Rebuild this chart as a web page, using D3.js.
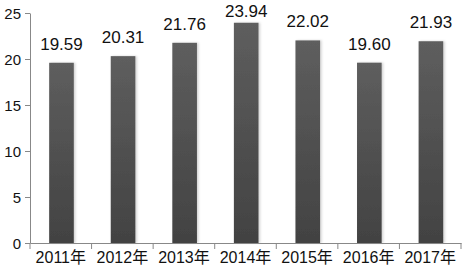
<!DOCTYPE html>
<html>
<head>
<meta charset="utf-8">
<script src="https://cdn.jsdelivr.net/npm/d3@7"></script>
<style>
  body { margin: 0; background: #fff; }
  svg { display: block; }
</style>
</head>
<body>
<div id="container"></div>
<script>
/* DATA */
const years = ["2011年", "2012年", "2013年", "2014年", "2015年", "2016年", "2017年"]
const values = [19.59, 20.31, 21.76, 23.94, 22.02, 19.60, 21.93]
const yTicks = [0, 5, 10, 15, 20, 25]

/* CONSTANTS */
const width = 469, height = 275
const margin = { top: 13, bottom: 32, left: 30, right: 8 }
const font = "'Liberation Sans', 'Noto Sans CJK SC', sans-serif"

const svg = d3.select("#container")
  .append("svg")
  .attr("width", width)
  .attr("height", height)

// gradient for bars
const defs = svg.append("defs")
const grad = defs.append("linearGradient")
  .attr("id", "barGrad")
  .attr("x1", 0).attr("y1", 0).attr("x2", 0).attr("y2", 1)
grad.append("stop").attr("offset", "0%").attr("stop-color", "#5e5e5e")
grad.append("stop").attr("offset", "100%").attr("stop-color", "#424242")

const shadow = defs.append("filter").attr("id", "shadow")
  .attr("x", "-20%").attr("width", "150%")
shadow.append("feDropShadow")
  .attr("dx", 1.5).attr("dy", 0).attr("stdDeviation", 1.2)
  .attr("flood-color", "#000").attr("flood-opacity", 0.18)

// SCALES
const xScale = d3.scaleBand()
  .domain(years)
  .range([margin.left, width - margin.right])
  .padding(0)

const yScale = d3.scaleLinear()
  .domain([0, 25])
  .range([height - margin.bottom, margin.top])

// BARS
const barW = xScale.bandwidth() * 0.4
svg.selectAll("rect.bar")
  .data(values)
  .join("rect")
  .attr("class", "bar")
  .attr("x", (d, i) => xScale(years[i]) + xScale.bandwidth() / 2 - barW / 2 + 0.7)
  .attr("y", d => yScale(d))
  .attr("width", barW)
  .attr("height", d => yScale(0) - yScale(d))
  .attr("fill", "url(#barGrad)")
  .attr("filter", "url(#shadow)")

// VALUE LABELS (kept inside the top edge like the original)
svg.selectAll("text.val")
  .data(values)
  .join("text")
  .attr("class", "val")
  .attr("x", (d, i) => xScale(years[i]) + xScale.bandwidth() / 2 + 0.7)
  .attr("y", d => Math.max(yScale(d) - 13, 17))
  .attr("text-anchor", "middle")
  .style("font-family", font)
  .style("font-size", "17px")
  .style("fill", "#111")
  .text(d => d.toFixed(2))

// AXES
const yAxis = d3.axisLeft(yScale).tickValues(yTicks).tickSize(5).tickPadding(4).tickSizeOuter(0)
const yAxisGroup = svg.append("g")
  .attr("transform", `translate(${margin.left}, 0)`)
  .call(yAxis)

const xAxis = d3.axisBottom(xScale).tickSize(0).tickPadding(9).tickSizeOuter(0)
const xAxisGroup = svg.append("g")
  .attr("transform", `translate(0, ${height - margin.bottom})`)
  .call(xAxis)

// x tick marks at band boundaries
svg.selectAll("line.xtick")
  .data(years.concat([null]))
  .join("line")
  .attr("class", "xtick")
  .attr("x1", d => d ? xScale(d) : xScale.range()[1])
  .attr("x2", d => d ? xScale(d) : xScale.range()[1])
  .attr("y1", yScale(0))
  .attr("y2", yScale(0) + 6)
  .attr("stroke", "#888")

svg.selectAll(".domain, .tick line").attr("stroke", "#888")
svg.selectAll(".tick text")
  .style("font-family", font)
  .style("fill", "#111")
xAxisGroup.selectAll(".tick text").style("font-size", "16px")
yAxisGroup.selectAll(".tick text").style("font-size", "15px").attr("dy", "0.36em")
</script>
</body>
</html>
